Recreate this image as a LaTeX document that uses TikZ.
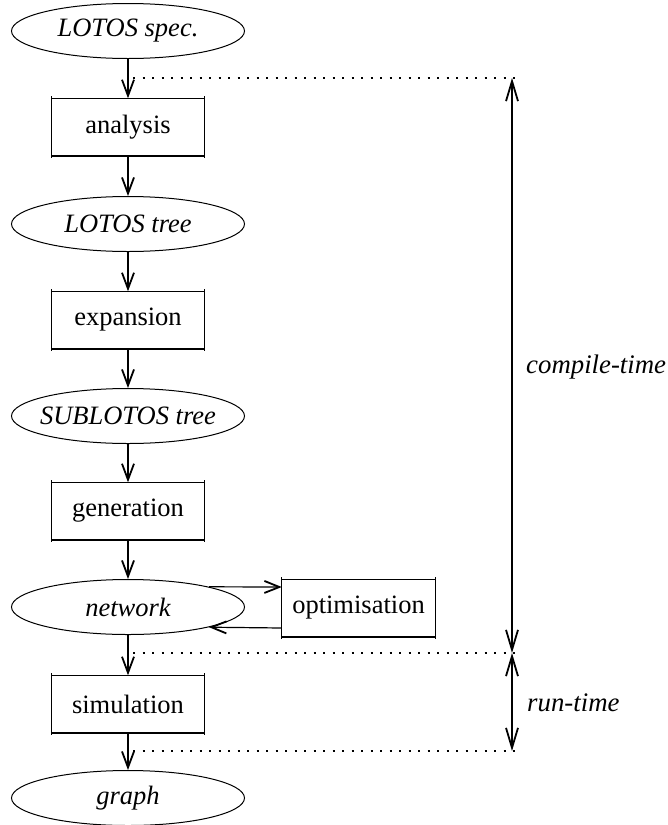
\documentclass[tikz,border=0pt]{standalone}
\usepackage{fontspec}
\setmainfont{Liberation Serif}
\usetikzlibrary{shapes.geometric,arrows.meta}
\begin{document}
\begin{tikzpicture}[x=1pt,y=-1pt,
  txt/.style={font=\fontsize{26.5}{30}\selectfont},
  oval/.style={txt,shape=ellipse,draw,line width=1pt,minimum width=233pt,minimum height=55pt,inner xsep=-20pt,inner ysep=0pt,font=\fontsize{26.5}{30}\selectfont\itshape},
  proc/.style={txt,shape=rectangle,minimum width=153pt,minimum height=57pt,inner sep=0pt},
  flow/.style={line width=2pt,-{Straight Barb[length=16pt,width=12pt,line width=1.8pt]}},
  side/.style={line width=1.2pt,-{Straight Barb[length=15pt,width=12pt,line width=1.8pt]}},
  span/.style={line width=1.3pt,{Straight Barb[length=20pt,width=12pt,line width=1.8pt]}-{Straight Barb[length=20pt,width=12pt,line width=1.8pt]}},
  dots/.style={line width=2.2pt,dash pattern=on 2.2pt off 7.3pt},
  lab/.style={anchor=west,inner sep=0pt,font=\fontsize{26.8}{30}\selectfont\itshape}
]
\useasboundingbox (0,0) rectangle (668,825);
\node[oval] (spec) at (128,31) {LOTOS spec.};
\node[proc] (ana) at (128,127) {analysis};
\node[oval] (tree) at (128,224) {LOTOS tree};
\node[proc] (exp) at (128,320) {expansion};
\node[oval] (sub) at (128,416) {SUBLOTOS tree};
\node[proc] (gen) at (128,511) {generation};
\node[oval] (net) at (128,607) {network};
\node[proc] (opt) at (358.5,608) {optimisation};
\node[proc] (sim) at (128,704) {simulation};
\node[oval] (graph) at (128,798) {graph};
\foreach \n in {ana,exp,gen,opt,sim}{
  \draw[line width=1pt] ([yshift=2pt]\n.north west) -- ([yshift=-2pt]\n.south west);
  \draw[line width=1pt] ([yshift=2pt]\n.north east) -- ([yshift=-2pt]\n.south east);
  \draw[line width=1pt] (\n.north west) -- (\n.north east);
  \draw[line width=1.8pt] (\n.south west) -- (\n.south east);
}
\draw[flow] (spec) -- (ana);
\draw[flow] (ana) -- (tree);
\draw[flow] (tree) -- (exp);
\draw[flow] (exp) -- (sub);
\draw[flow] (sub) -- (gen);
\draw[flow] (gen) -- (net);
\draw[flow] (net) -- (sim);
\draw[flow] (sim) -- (graph);
\coordinate (o1) at (opt.west |- 0,587);
\coordinate (o2) at (opt.west |- 0,628);
\draw[side] (net.{atan2(20,80)}) -- (o1);
\draw[side] (o2) -- (net.{atan2(-21,79)});
\coordinate (d1a) at (133,78);
\coordinate (d1b) at (516,78);
\coordinate (d2a) at (133,653);
\coordinate (d2b) at (516,653);
\coordinate (d3a) at (133,751);
\coordinate (d3b) at (516,751);
\draw[dots] (d1a) -- (d1b);
\draw[dots] (d2a) -- (d2b);
\draw[dots] (d3a) -- (d3b);
\coordinate (r1) at (512,78);
\coordinate (r2) at (512,653);
\coordinate (r3) at (512,751);
\draw[span] (r1) -- (r2);
\draw[span] (r2) -- (r3);
\node[lab] (ct) at (526,367) {compile-time};
\node[lab] (rt) at (527,703) {run-time};
\end{tikzpicture}
\end{document}
